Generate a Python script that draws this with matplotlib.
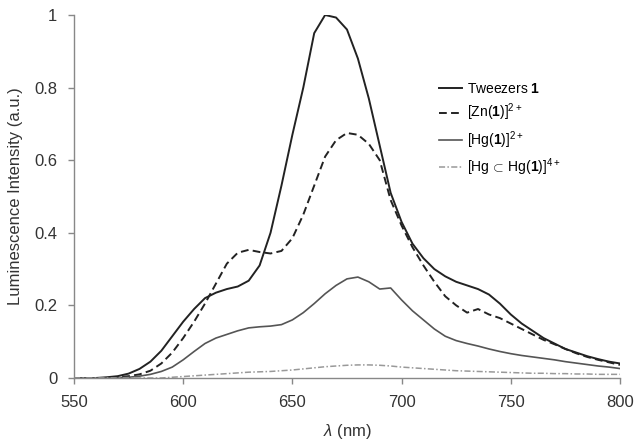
import matplotlib
matplotlib.use('Agg')
import matplotlib.pyplot as plt
import numpy as np

plt.rcParams['font.family'] = ['Liberation Sans', 'DejaVu Sans']
plt.rcParams['mathtext.fontset'] = 'custom'
plt.rcParams['mathtext.rm'] = 'Liberation Sans'
plt.rcParams['mathtext.bf'] = 'Liberation Sans:bold'
plt.rcParams['mathtext.it'] = 'Liberation Sans:italic'

# wavelength grid (nm)
wavelength = list(range(550, 805, 5))

tweezers = [0.0, 0.0, 0.0, 0.002, 0.005, 0.012, 0.025, 0.045, 0.075, 0.115,
            0.155, 0.19, 0.22, 0.235, 0.245, 0.252, 0.268, 0.31, 0.40, 0.53,
            0.67, 0.80, 0.95, 1.0, 0.993, 0.96, 0.88, 0.77, 0.64, 0.51,
            0.43, 0.37, 0.33, 0.30, 0.28, 0.265, 0.255, 0.245, 0.23, 0.205,
            0.175, 0.15, 0.13, 0.11, 0.095, 0.08, 0.07, 0.06, 0.052, 0.045, 0.04]

zn = [0.0, 0.0, 0.0, 0.0, 0.002, 0.005, 0.01, 0.02, 0.04, 0.07,
      0.11, 0.155, 0.205, 0.26, 0.315, 0.345, 0.353, 0.347, 0.343, 0.35,
      0.385, 0.45, 0.53, 0.61, 0.655, 0.675, 0.67, 0.645, 0.60, 0.49,
      0.42, 0.36, 0.31, 0.265, 0.225, 0.20, 0.18, 0.19, 0.175, 0.165,
      0.15, 0.135, 0.12, 0.105, 0.093, 0.08, 0.068, 0.058, 0.05, 0.043, 0.036]

hg = [0.0, 0.0, 0.0, 0.0, 0.0, 0.002, 0.005, 0.01, 0.018, 0.03,
      0.05, 0.073, 0.095, 0.11, 0.12, 0.13, 0.138, 0.141, 0.143, 0.147,
      0.16, 0.18, 0.205, 0.232, 0.255, 0.273, 0.278, 0.265, 0.245, 0.248,
      0.215, 0.185, 0.16, 0.135, 0.115, 0.103, 0.095, 0.088, 0.08, 0.073,
      0.067, 0.062, 0.058, 0.054, 0.05, 0.045, 0.041, 0.037, 0.033, 0.03, 0.026]

hghg = [0.0, 0.0, 0.0, 0.0, 0.0, 0.0, 0.0, 0.0, 0.0, 0.002,
        0.004, 0.006, 0.008, 0.01, 0.012, 0.014, 0.016, 0.017, 0.018, 0.02,
        0.022, 0.025, 0.028, 0.031, 0.033, 0.035, 0.036, 0.036, 0.035, 0.033,
        0.03, 0.028, 0.026, 0.024, 0.022, 0.02, 0.019, 0.018, 0.017, 0.016,
        0.015, 0.014, 0.013, 0.013, 0.012, 0.012, 0.011, 0.011, 0.01, 0.01, 0.01]

labels = [r'Tweezers $\mathbf{1}$',
          r'[Zn($\mathbf{1}$)]$^{2+}$',
          r'[Hg($\mathbf{1}$)]$^{2+}$',
          r'[Hg$\,\subset\,$Hg($\mathbf{1}$)]$^{4+}$']

fig = plt.figure(figsize=(6.41, 4.45), dpi=100)
ax = fig.add_axes([0.1154, 0.1506, 0.8518, 0.8157])

ax.plot(wavelength, tweezers, color='#222222', lw=1.4, label=labels[0])
ax.plot(wavelength, zn, color='#222222', lw=1.4, ls=(0, (4, 2.2)), label=labels[1])
ax.plot(wavelength, hg, color='#555555', lw=1.2, label=labels[2])
ax.plot(wavelength, hghg, color='#999999', lw=1.1, ls=(0, (4, 1.5, 1, 1.5)), label=labels[3])

ax.set_xlim(550, 800)
ax.set_ylim(0, 1)
ax.set_xticks([550, 600, 650, 700, 750, 800])
ax.set_yticks([0, 0.2, 0.4, 0.6, 0.8, 1])
ax.set_yticklabels(['0', '0.2', '0.4', '0.6', '0.8', '1'])

for s in ['top', 'right']:
    ax.spines[s].set_visible(False)
for s in ['left', 'bottom']:
    ax.spines[s].set_color('#888888')
    ax.spines[s].set_linewidth(1.0)
ax.tick_params(axis='both', colors='#888888', labelcolor='#333333', labelsize=12,
               length=4, width=1, direction='out')
ax.tick_params(axis='y', pad=8)
ax.tick_params(axis='x', pad=8)

ax.set_xlabel(r'$\mathit{\lambda}$ (nm)', fontsize=12, color='#333333', labelpad=9)
ax.set_ylabel('Luminescence Intensity (a.u.)', fontsize=12, color='#333333', labelpad=8)

ax.legend(loc='upper left', bbox_to_anchor=(0.645, 0.85), frameon=False, fontsize=10,
          handlelength=1.65, handletextpad=0.4, labelspacing=0.42)

fig.savefig('out.png', dpi=100)
